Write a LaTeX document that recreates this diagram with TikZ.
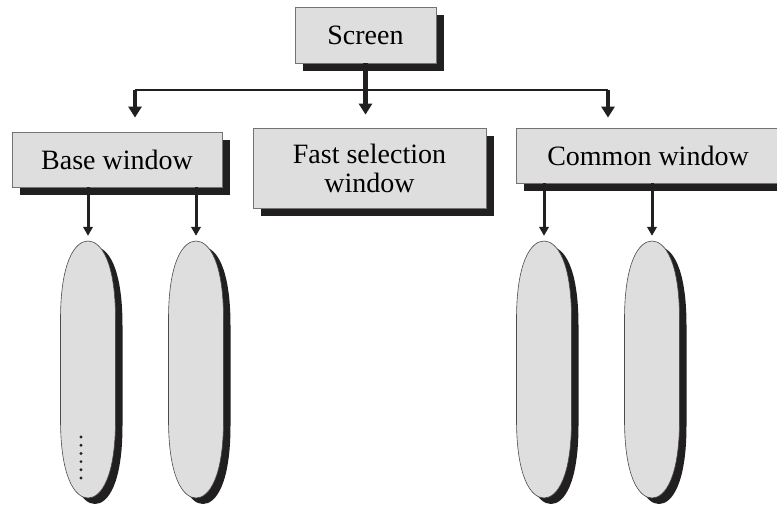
\documentclass[tikz,border=0pt]{standalone}
\usepackage{fontspec}
\setmainfont{Liberation Serif}
\usetikzlibrary{positioning,arrows.meta,shapes.geometric,shadows}
\definecolor{boxgray}{rgb}{0.87,0.87,0.87}
\definecolor{shadowblack}{rgb}{0.13,0.12,0.12}
\def\paneoutline{(0,-128.5) .. controls (13,-128.5) and (27.5,-108) .. (27.5,-50)
  -- (27.5,50) .. controls (27.5,108) and (13,128.5) .. (0,128.5)
  .. controls (-13,128.5) and (-27.5,108) .. (-27.5,50)
  -- (-27.5,-50) .. controls (-27.5,-108) and (-13,-128.5) .. (0,-128.5) -- cycle}

\begin{document}
\begin{tikzpicture}[
  x=1pt, y=-1pt,
  font=\fontsize{28}{31}\selectfont,
  winbox/.style={draw=black!55, line width=0.8pt, fill=boxgray, align=center,
    inner sep=0pt, drop shadow={shadow xshift=8pt, shadow yshift=-8pt, fill=shadowblack, opacity=1}},
  pane/.pic={
    \fill[shadowblack, shift={(7,6)}] \paneoutline;
    \filldraw[fill=boxgray, draw=black!70, line width=0.6pt] \paneoutline;
  },
  panebox/.style={inner sep=0pt, minimum width=55pt, minimum height=257pt},
  bus/.style={line width=2.4pt, draw=shadowblack},
  bigarrow/.style={-{Triangle[width=13pt,length=11pt]}, line width=4.5pt, draw=shadowblack},
  arrow/.style={-{Triangle[width=9.5pt,length=9pt]}, line width=3pt, draw=shadowblack}
]
\useasboundingbox (0,0) rectangle (777,506);

\node[winbox, minimum width=141pt, minimum height=56pt] (screen) at (365.5,35) {Screen};
\node[winbox, minimum width=210pt, minimum height=55pt] (base) at (117,159.5) {Base window};
\node[winbox, minimum width=233pt, minimum height=80pt] (fast) at (369.5,168) {Fast selection\\[-2pt]window};
\node[winbox, minimum width=264pt, minimum height=55pt] (common) at (648,155.5) {Common window};

\foreach \n/\x in {b1/88, b2/196, c1/544, c2/652} {
  \pic at (\x,369.5) {pane};
  \node[panebox] (\n) at (\x,369.5) {};
}

\foreach \i in {0,...,5}
  \fill[shadowblack] (81,437+8.2*\i) circle (1.6pt);

\coordinate (busL) at (135,90);
\coordinate (busR) at (608,90);
\draw[bus] (busL) -- (busR);
\draw[bigarrow, shorten >=14pt] (busL) -- (busL |- base.north);
\draw[bigarrow, shorten >=10pt] (busR) -- (busR |- common.north);
\draw[bigarrow, shorten >=13pt] (screen) -- (screen |- fast.north);

\draw[arrow, shorten >=5pt] (b1.north |- base.south) -- (b1.north);
\draw[arrow, shorten >=5pt] (b2.north |- base.south) -- (b2.north);
\draw[arrow, shorten >=5pt] (c1.north |- common.south) -- (c1.north);
\draw[arrow, shorten >=5pt] (c2.north |- common.south) -- (c2.north);
\end{tikzpicture}
\end{document}
